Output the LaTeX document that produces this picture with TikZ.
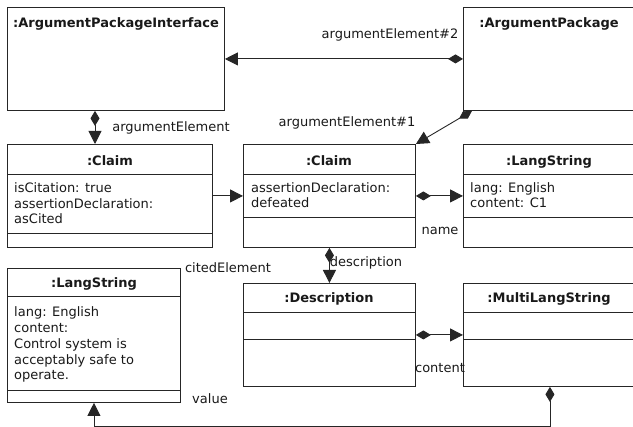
\documentclass[tikz,border=0pt]{standalone}
\usepackage{fontspec}
\setmainfont{DejaVu Sans}
\usetikzlibrary{arrows.meta}
\begin{document}
\begin{tikzpicture}[x=1pt,y=-1pt]
    \tikzstyle{obj}=[draw=black!85, line width=0.9pt, rectangle, anchor=north west, inner sep=0pt]
    \tikzstyle{title}=[font=\fontsize{13}{15.5}\selectfont\bfseries, inner sep=0pt, anchor=base, text=black!90]
    \tikzstyle{attr}=[font=\fontsize{13}{15.8}\selectfont, align=left, inner sep=0pt, anchor=base west, text=black!90]
    \tikzstyle{lbl}=[font=\fontsize{13}{15.5}\selectfont, inner sep=0pt, anchor=base, text=black!90]
    \tikzstyle{sep}=[draw=black!85, line width=0.9pt]
    \tikzstyle{assoc}=[draw=black!85, line width=0.9pt, {Diamond[length=15pt,width=9pt]}-{Triangle[length=13pt,width=13pt]}]
    \tikzstyle{ref}=[draw=black!85, line width=0.9pt, -{Triangle[length=13pt,width=13pt]}]

    \useasboundingbox (0,0) rectangle (633,427);

    % objects
    \node[obj, minimum width=217pt, minimum height=103pt] (api) at (7,7) {};
    \node[obj, minimum width=173pt, minimum height=103pt] (ap) at (463,7) {};
    \node[obj, minimum width=205pt, minimum height=103pt] (c1) at (7,144) {};
    \node[obj, minimum width=172pt, minimum height=103pt] (c2) at (243,144) {};
    \node[obj, minimum width=173pt, minimum height=103pt] (ls1) at (463,144) {};
    \node[obj, minimum width=173pt, minimum height=134pt] (ls2) at (7,268) {};
    \node[obj, minimum width=172pt, minimum height=103pt] (desc) at (243,283) {};
    \node[obj, minimum width=173pt, minimum height=103pt] (mls) at (463,283) {};

    % compartments
    \draw[sep] ([yshift=-30pt]c1.north west) -- ([yshift=-30pt]c1.north east);
    \draw[sep] ([yshift=-89pt]c1.north west) -- ([yshift=-89pt]c1.north east);
    \draw[sep] ([yshift=-30pt]c2.north west) -- ([yshift=-30pt]c2.north east);
    \draw[sep] ([yshift=-73pt]c2.north west) -- ([yshift=-73pt]c2.north east);
    \draw[sep] ([yshift=-30pt]ls1.north west) -- ([yshift=-30pt]ls1.north east);
    \draw[sep] ([yshift=-73pt]ls1.north west) -- ([yshift=-73pt]ls1.north east);
    \draw[sep] ([yshift=-28pt]ls2.north west) -- ([yshift=-28pt]ls2.north east);
    \draw[sep] ([yshift=-122pt]ls2.north west) -- ([yshift=-122pt]ls2.north east);
    \draw[sep] ([yshift=-29pt]desc.north west) -- ([yshift=-29pt]desc.north east);
    \draw[sep] ([yshift=-56pt]desc.north west) -- ([yshift=-56pt]desc.north east);
    \draw[sep] ([yshift=-29pt]mls.north west) -- ([yshift=-29pt]mls.north east);
    \draw[sep] ([yshift=-56pt]mls.north west) -- ([yshift=-56pt]mls.north east);

    % titles
    \node[title] (apit) at (116,28) {:ArgumentPackageInterface};
    \node[title] (apt) at (549,28) {:ArgumentPackage};
    \node[title] (c1t) at (110,166) {:Claim};
    \node[title] (c2t) at (329,166) {:Claim};
    \node[title] (ls1t) at (549,166) {:LangString};
    \node[title] (ls2t) at (94,288) {:LangString};
    \node[title] (desct) at (329,303) {:Description};
    \node[title] (mlst) at (549,303) {:MultiLangString};

    % attributes (placed by last baseline)
    \node[attr] (c1a) at (14,224) {isCitation: true\\assertionDeclaration:\\asCited};
    \node[attr] (c2a) at (251,208) {assertionDeclaration:\\defeated};
    \node[attr] (ls1a) at (470,208) {lang: English\\content: C1};
    \node[attr] (ls2a) at (14,380) {lang: English\\content:\\Control system is\\acceptably safe to\\operate.};

    % links
    \draw[assoc] (ap.west) -- (api.east);
    \draw[assoc] ([xshift=88pt]api.south west) -- ([xshift=88pt]c1.north west);
    \draw[assoc] ([xshift=9pt]ap.south west) -- (c2.north east);
    \draw[ref] (c1.east) -- (c2.west);
    \draw[assoc] (c2.east) -- (ls1.west);
    \draw[assoc] (c2.south) -- (desc.north);
    \draw[assoc] (desc.east) -- (mls.west);
    \draw[assoc] (mls.south) -- ++(0,40) -| (ls2.south);

    % roles
    \node[lbl] (l2) at (390,39) {argumentElement\#2};
    \node[lbl] (l0) at (171,132) {argumentElement};
    \node[lbl] (l1) at (347,127) {argumentElement\#1};
    \node[lbl] (lname) at (440,235) {name};
    \node[lbl] (lcited) at (228,273) {citedElement};
    \node[lbl] (ldesc) at (366,267) {description};
    \node[lbl] (lcont) at (440,373) {content};
    \node[lbl] (lval) at (210,404) {value};
\end{tikzpicture}
\end{document}
